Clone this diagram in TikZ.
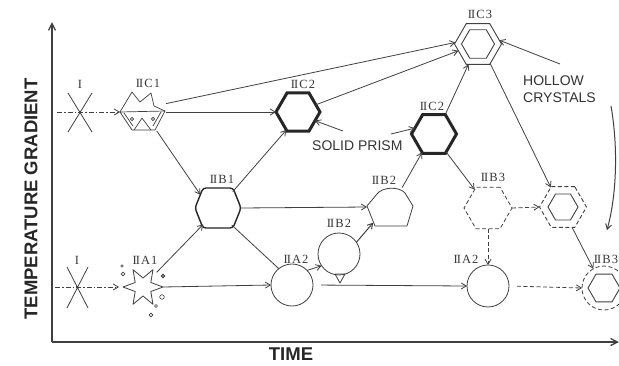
\documentclass[tikz,border=0pt]{standalone}
\usepackage{fontspec}
\setmainfont{Liberation Serif}
\newfontfamily\sansfam{Liberation Sans}
\usetikzlibrary{arrows.meta,shapes.geometric,calc}

\newcommand\stagefont{\rmfamily\fontsize{12.5}{13}\selectfont}
\newcommand\capfont{\sansfam\fontsize{14}{17}\selectfont}
\newcommand\axisfont{\sansfam\bfseries\fontsize{18.5}{20}\selectfont}
\newcommand\StII{I\kern-0.8ptI}
% stage name: roman II, habit letter, index, set a little apart
\newcommand\stage[2]{\StII\kern1pt #1\kern1.2pt #2}

\begin{document}
\begin{tikzpicture}[x=1pt,y=-1pt,
  line/.style={draw=black!75, line width=0.8pt},
  tip/.style={-{Straight Barb[length=5pt,width=6pt]}},
  conn/.style={line, tip},
  dotdash/.style={dash pattern=on 5pt off 2pt on 1.5pt off 2pt},
  broken/.style={dash pattern=on 4pt off 2.5pt},
  hexagon/.style={regular polygon, regular polygon sides=6, inner sep=0pt, outer sep=0pt, draw=black!75},
  ring/.style={circle, inner sep=0pt, outer sep=0pt, draw=black!75, line width=0.8pt},
  spot/.style={inner sep=0pt, outer sep=0pt},
  stagelabel/.style={font=\stagefont, text=black!78, inner sep=0pt},
  caption/.style={font=\capfont, text=black!80, inner sep=0pt},
  axistitle/.style={font=\axisfont, text=black!85, inner sep=0pt},
]
\useasboundingbox (0,0) rectangle (619,365);
\clip (0,0) rectangle (619,365);
\fill[white] (0,0) rectangle (619,365);

% ---------- axes ----------
\coordinate (origin) at (52,342);
\coordinate (ytop) at (52,22);
\coordinate (xend) at (619,342);
\draw[line, line width=1.3pt, -{Straight Barb[length=7pt,width=7pt]}] (origin) -- (ytop);
\draw[line, line width=1.3pt, -{Straight Barb[length=7pt,width=7pt]}] (origin) -- (xend);
\node[axistitle, rotate=90] (ytitle) at (31,199) {TEMPERATURE GRADIENT};
\node[axistitle] (xtitle) at (291,354) {TIME};

% ---------- nodes ----------
\node[spot, minimum size=40pt, circle] (itop) at (80,112) {};
\node[spot, minimum size=40pt, circle] (ibot) at (77,287) {};
\node[spot, minimum width=46pt, minimum height=38pt] (c1) at (143,112) {};
\node[spot, circle, minimum size=40pt] (a1) at (143,287) {};
\node[spot, circle, minimum size=44pt] (b1) at (218,208) {};
\node[hexagon, minimum size=44pt, line width=3pt, draw=black!85] (c2a) at (298,112) {};
\node[hexagon, minimum size=45pt, line width=3pt, draw=black!85] (c2b) at (434,134) {};
\node[hexagon, minimum size=47pt, line width=0.9pt] (c3) at (478,44) {};
\node[hexagon, minimum size=33pt, line width=0.9pt] (c3in) at (478,44) {};
\node[ring, minimum size=42pt] (a2a) at (292,285) {};
\node[ring, minimum size=42pt] (b2c) at (339,254) {};
\node[spot, circle, minimum size=46pt] (b2p) at (390,207) {};
\node[hexagon, minimum size=48pt, line width=0.8pt, broken] (b3) at (488,208) {};
\node[ring, minimum size=42pt] (a2b) at (488,286) {};
\node[hexagon, minimum size=47pt, line width=0.9pt, broken] (hol) at (563,207) {};
\node[hexagon, minimum size=30pt, line width=0.9pt] (holin) at (563,207) {};
\node[ring, minimum size=44pt, broken] (b3f) at (604,288) {};
\node[hexagon, minimum size=32pt, line width=0.9pt] (b3fin) at (604,288) {};

% ---------- shapes drawn by hand ----------
% nuclei: three crossing strokes
\draw[line, shift={(itop)}] (-12,-19) -- (12,20) (12,-19) -- (-12,20);
\draw[line, shift={(ibot)}] (-10,-20) -- (11,21) (11,-20) -- (-10,21);
\fill[black!80] (itop) circle (1.2pt) (ibot) circle (1.2pt);

% IIC1: star top with a trapezoid foot
\begin{scope}[shift={(c1)}, line, line width=0.7pt, line join=round]
  \draw (-23,0) -- (-11,-20) -- (-3,-10) -- (8,-19) -- (11,-6) -- (22,-1);
  \draw (-23,0) -- (22,-1) -- (12,18) -- (-11,18) -- cycle;
  \draw (-9,18) -- (-1,6) -- (8,18);
  \draw (-19,1) -- (-10,14) (18,0) -- (10,14);
  \draw (-11,7) circle (1.6pt) (10,7) circle (1.6pt);
\end{scope}

% IIA1: six-armed star with bubbles
\draw[line, shift={(a1)}, line join=round]
  (0:20) -- (30:9) -- (60:20) -- (90:9) -- (120:20) -- (150:9) --
  (180:20) -- (210:9) -- (240:20) -- (270:9) -- (300:20) -- (330:9) -- cycle;
\begin{scope}[line, line width=0.6pt]
  \draw (122,266) circle (1.2pt);
  \draw (123,274) circle (1.9pt);
  \filldraw[fill=black!45] (163,276) circle (1.9pt);
  \draw (162,297) circle (2.3pt);
  \draw (156,306) circle (1.5pt);
  \draw (151,315) circle (1.9pt);
\end{scope}

% IIB1: rounded hexagon, heavier outline
\draw[line, line width=1.4pt, draw=black!85, rounded corners=3pt, shift={(b1)}]
  (-15,-20) -- (15,-20) -- (23,0) -- (15,20) -- (-15,20) -- (-23,0) -- cycle;

% IIB2: hexagonal base with a rounded top
\draw[line, line join=round, shift={(b2p)}]
  (-23,-1) -- (-13,-13) .. controls (-8,-20) and (9,-21) .. (15,-14)
  -- (23,-1) -- (17,19) -- (-15,19) -- cycle;

% IIB2 drop: small triangle under the circle
\draw[line, line join=round] (335,274) -- (345,274) -- (340,283) -- cycle;

% ---------- labels ----------
\node[stagelabel] (lIt) at (80,84) {I};
\node[stagelabel] (lIb) at (77,260) {I};
\node[stagelabel] (lc1) at (148,83) {\stage C1};
\node[stagelabel] (lc2a) at (303,84) {\stage C2};
\node[stagelabel] (lc3) at (480,14) {\stage C3};
\node[stagelabel] (lc2b) at (432,106) {\stage C2};
\node[stagelabel] (lb1) at (222,179) {\stage B1};
\node[stagelabel] (lb2p) at (384,180) {\stage B2};
\node[stagelabel] (lb2c) at (339,223) {\stage B2};
\node[stagelabel] (lb3) at (493,177) {\stage B3};
\node[stagelabel] (la1) at (145,260) {\stage A1};
\node[stagelabel] (la2a) at (296,259) {\stage A2};
\node[stagelabel] (la2b) at (466,259) {\stage A2};
\node[stagelabel] (lb3f) at (606,259) {\stage B3};

\node[caption, anchor=west] (solid) at (312,146) {SOLID PRISM};
\node[caption, anchor=west, align=left] (hollow) at (523,89) {HOLLOW\\CRYSTALS};
\coordinate (solidL) at (343,131);
\coordinate (solidR) at (391,134);
\coordinate (hollowtail) at (560,64);
\coordinate (itopstart) at (57,112);
\coordinate (ibotstart) at (55,287);
\coordinate (swingstart) at (611,106);
\coordinate (swingend) at (607,230);

% ---------- connectors ----------
\draw[conn, dotdash] (itopstart) -- (c1.west);
\draw[conn, dotdash] (ibotstart) -- ($(a1.west)+(-4,0)$);

\draw[conn] (c1.east) -- (c2a.west);
\draw[conn] (c1.20) -- (c3.176);
\draw[conn] (c1.-54) -- (b1.143);
\draw[conn] (b1.48) -- (c2a.237);
\draw[conn] (b1.east) -- (b2p.west);
\draw[line] (b1.309) -- (a2a.129);
\draw[conn] (a1.47) -- (b1.228);
\draw[conn] (a1.east) -- (a2a.west);
\draw[conn] (a2a.44) -- (b2c.214);
\draw[conn, shorten <=8pt] (a2a.east) -- (a2b.west);
\draw[conn, line width=1pt] (b2c.34) -- (b2p.223);
\draw[conn] (b2p.58) -- (c2b.237);
\draw[conn] (c2a.22) -- (c3.199);
\draw[conn] (c2b.60) -- (c3.245);
\draw[conn] (c2b.304) -- (b3.126);
\draw[conn] (c3.302) -- (hol.122);
\draw[conn, broken] (b3.east) -- (hol.west);
\draw[conn, broken] (b3.south) -- (a2b.north);
\draw[conn] (hol.294) -- (b3f.119);
\draw[conn, broken, shorten <=8pt] (a2b.east) -- (b3f.west);
\draw[conn, line width=1pt] (swingstart) .. controls (618,146) and (617,194) .. (swingend);

\draw[conn] (solidL) -- (c2a.333);
\draw[conn] (solidR) -- (c2b.163);
\draw[conn] (hollowtail) -- (c3.10);
\end{tikzpicture}
\end{document}
